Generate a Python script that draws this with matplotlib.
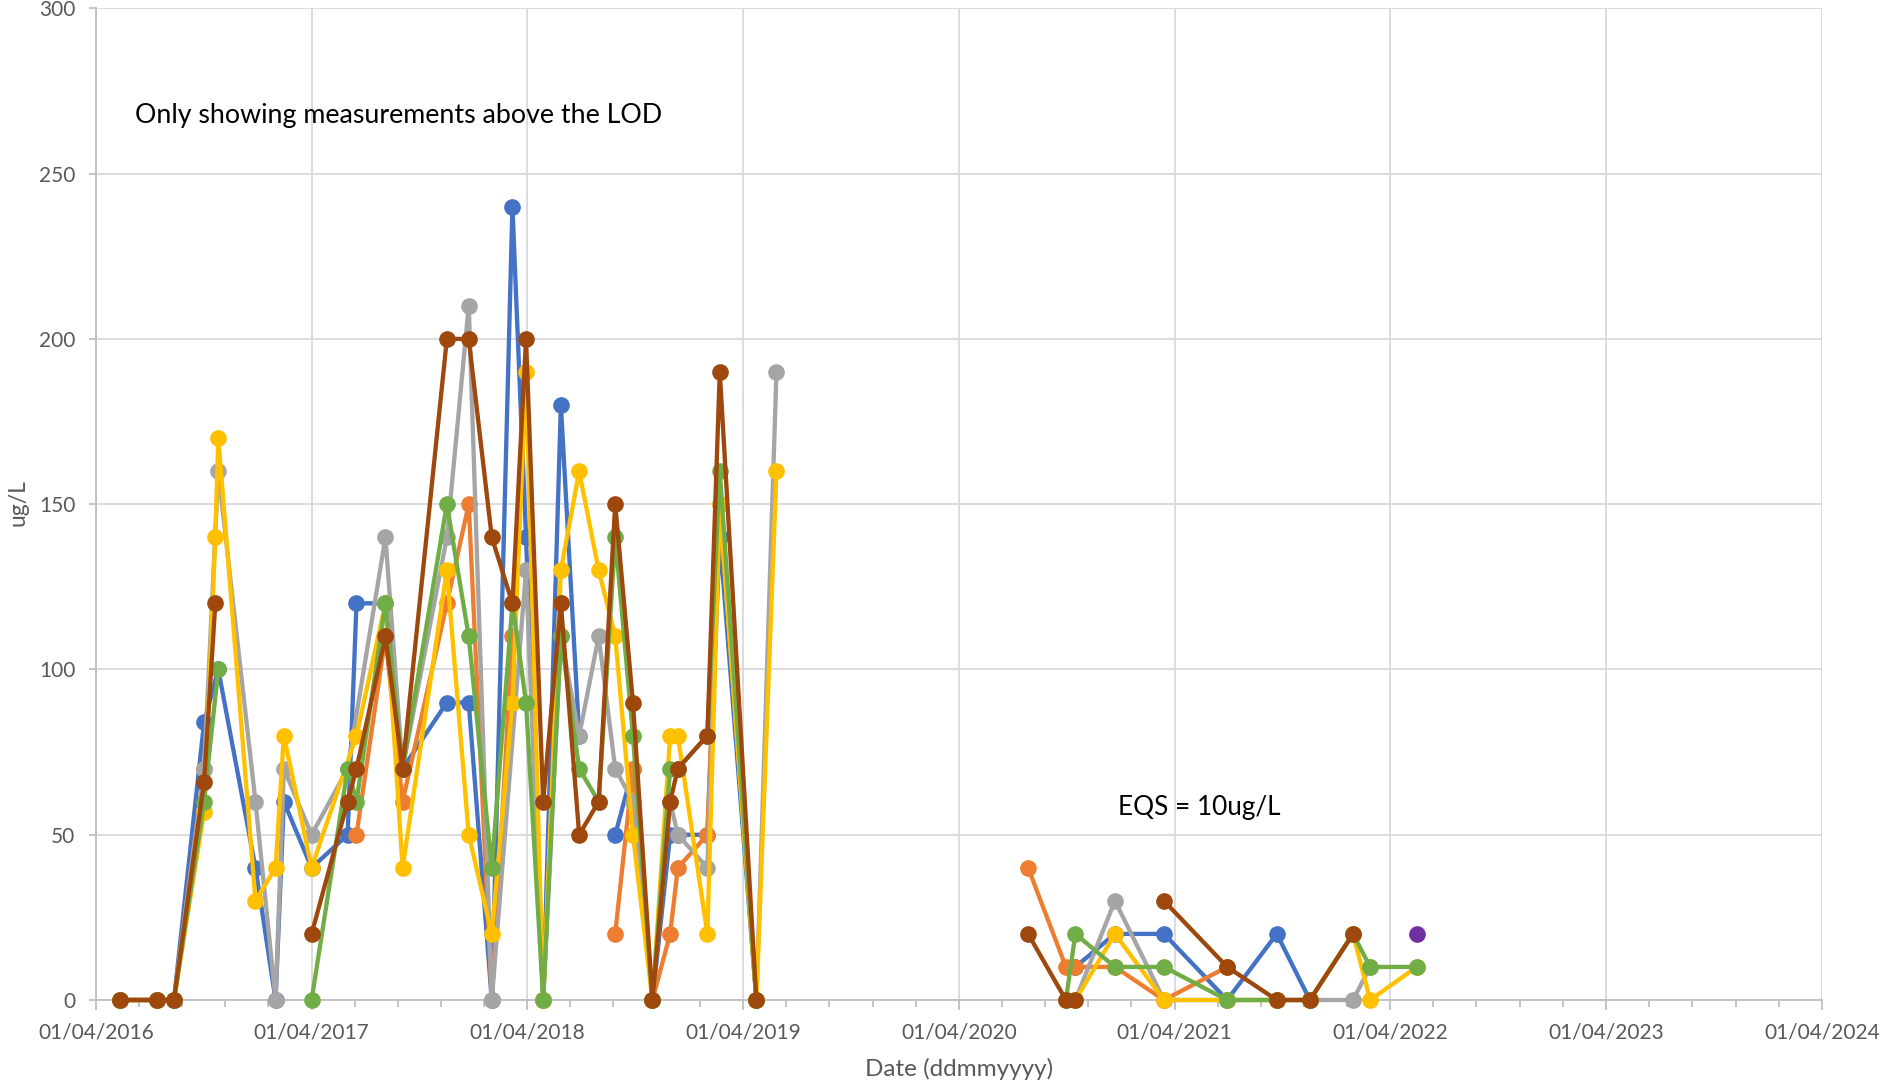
import datetime as dt

import numpy as np
import matplotlib
matplotlib.use("Agg")
import matplotlib.pyplot as plt
import matplotlib.dates as mdates
from matplotlib.ticker import FixedLocator

# Cell conventions (as in the source workbook):
#   NA  -> no sample on that date for the site; the line runs on to the next reading
#   GAP -> empty cell; the line is broken there
NA = None
GAP = np.nan

sample_dates = [
    "2016-05-12", "2016-07-14", "2016-08-11", "2016-10-01", "2016-10-20",
    "2016-10-25", "2016-12-27", "2017-01-30", "2017-02-13", "2017-04-01",
    "2017-06-01", "2017-06-16", "2017-08-04", "2017-09-02", "2017-11-16",
    "2017-12-23", "2018-01-31", "2018-03-07", "2018-03-30", "2018-04-28",
    "2018-05-28", "2018-06-28", "2018-07-31", "2018-08-28", "2018-09-27",
    "2018-10-30", "2018-11-29", "2018-12-12", "2019-01-31", "2019-02-21",
    "2019-04-24", "2019-05-28",
    "2020-07-27", "2020-09-29", "2020-10-15", "2020-12-21", "2021-03-14",
    "2021-06-29", "2021-09-21", "2021-11-16", "2022-01-28", "2022-02-26",
    "2022-05-16",
]

blue_vals = [
    0, 0, 0, 84, NA, 100, 40, 0, 60, 40,
    50, 120, 120, 70, 90, 90, 0, 240, 140, 0,
    180, 80, GAP, 50, 70, 0, 50, 50, 50, 140,
    0, GAP,
    GAP, GAP, 10, 20, 20, 0, 20, 0, GAP, GAP, GAP,
]
orange_vals = [
    0, 0, 0, 70, GAP, GAP, GAP, GAP, GAP, GAP,
    GAP, 50, 110, 60, 120, 150, 0, 110, GAP, 0,
    120, GAP, GAP, 20, 70, 0, 20, 40, 50, 150,
    0, GAP,
    40, 10, 10, 10, 0, 10, GAP, GAP, GAP, GAP, GAP,
]
grey_vals = [
    0, 0, 0, 70, NA, 160, 60, 0, 70, 50,
    70, NA, 140, 70, 140, 210, 0, NA, 130, 0,
    110, 80, 110, 70, 60, 0, 60, 50, 40, 150,
    0, 190,
    GAP, GAP, 0, 30, 0, 0, 0, 0, 0, 10, GAP,
]
yellow_vals = [
    0, 0, 0, 57, 140, 170, 30, 40, 80, 40,
    NA, 80, 120, 40, 130, 50, 20, 90, 190, 0,
    130, 160, 130, 110, 50, 0, 80, 80, 20, 150,
    0, 160,
    GAP, GAP, 0, 20, 0, 0, 0, 0, 20, 0, 10,
]
green_vals = [
    0, 0, 0, 60, NA, 100, GAP, GAP, GAP, 0,
    70, 60, 120, 70, 150, 110, 40, 120, 90, 0,
    110, 70, 60, 140, 80, 0, 70, 70, 80, 160,
    0, GAP,
    GAP, 0, 20, 10, 10, 0, 0, 0, 20, 10, 10,
]
brown_vals = [
    0, 0, 0, 66, 120, GAP, GAP, GAP, GAP, 20,
    60, 70, 110, 70, 200, 200, 140, 120, 200, 60,
    120, 50, 60, 150, 90, 0, 60, 70, 80, 190,
    0, GAP,
    20, 0, 0, GAP, 30, 10, 0, 0, 20, GAP, GAP,
]
purple_vals = [GAP] * 42 + [20]

y_ticks = [0, 50, 100, 150, 200, 250, 300]
x_tick_years = list(range(2016, 2025))

series = [
    (blue_vals, "#4472C4"),
    (orange_vals, "#ED7D31"),
    (grey_vals, "#A5A5A5"),
    (yellow_vals, "#FFC000"),
    (green_vals, "#70AD47"),
    (brown_vals, "#9E480E"),
    (purple_vals, "#7030A0"),
]

plt.rcParams["font.family"] = ["Lato", "DejaVu Sans"]

W, H = 1880, 1087
fig = plt.figure(figsize=(W / 100, H / 100), dpi=100)
left, right, bottom, top = 96, 1822, 1000, 8.4
ax = fig.add_axes([left / W, 1 - bottom / H, (right - left) / W, (bottom - top) / H])

date_nums = mdates.date2num([dt.datetime.strptime(d, "%Y-%m-%d") for d in sample_dates])

for z, (vals, color) in enumerate(series):
    xs = [x for x, v in zip(date_nums, vals) if v is not None]
    ys = [v for v in vals if v is not None]
    ax.plot(xs, ys, color=color, lw=3.1, marker="o", ms=12,
            markeredgewidth=0, solid_capstyle="round", solid_joinstyle="round",
            zorder=3 + z, clip_on=False)

# axes, ticks and grid
year_starts = [dt.datetime(y, 4, 1) for y in x_tick_years]
year_nums = mdates.date2num(year_starts)
ax.set_xlim(year_nums[0], year_nums[-1])
ax.set_ylim(y_ticks[0], y_ticks[-1])

ax.xaxis.set_major_locator(FixedLocator(year_nums))
ax.xaxis.set_major_formatter(mdates.DateFormatter("%d/%m/%Y"))
minor = []
for a, b in zip(year_nums[:-1], year_nums[1:]):
    minor.extend(a + (b - a) * k / 5 for k in range(1, 5))
ax.xaxis.set_minor_locator(FixedLocator(minor))
ax.yaxis.set_major_locator(FixedLocator(y_ticks))

grid_c = "#D9D9D9"
ax.grid(True, which="major", color=grid_c, lw=1.3, zorder=0)
ax.set_axisbelow(True)
for s in ("top", "right"):
    ax.spines[s].set_visible(False)
for s in ("left", "bottom"):
    ax.spines[s].set_color("#BFBFBF")
    ax.spines[s].set_linewidth(1.3)

label_c = "#595959"
ax.tick_params(axis="x", which="major", length=7, width=1.3, color="#BFBFBF",
               labelsize=15, labelcolor=label_c, pad=9)
ax.tick_params(axis="x", which="minor", length=5, width=1.3, color="#BFBFBF")
ax.tick_params(axis="y", which="major", length=5, width=1.3, color="#BFBFBF",
               labelsize=15, labelcolor=label_c, pad=10)

fig.text(959 / W, 1 - 1069 / H, "Date (ddmmyyyy)", ha="center", va="center",
         fontsize=17.5, color=label_c)
fig.text(18 / W, 1 - 503 / H, "ug/L", ha="center", va="center", rotation=90,
         fontsize=16.5, color=label_c)

fig.text(135 / W, 1 - 115 / H, "Only showing measurements above the LOD",
         ha="left", va="center", fontsize=19.3, color="black")
fig.text(1118 / W, 1 - 808 / H, "EQS = 10ug/L",
         ha="left", va="center", fontsize=18.8, color="black")

fig.savefig("out.png", dpi=100)
